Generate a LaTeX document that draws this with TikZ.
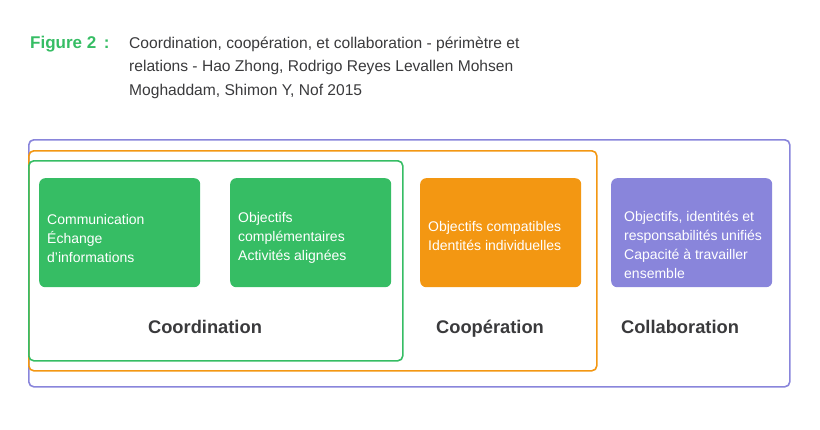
\documentclass[tikz,border=0pt]{standalone}
\usepackage{fontspec}
\setmainfont{Liberation Sans}
\usetikzlibrary{positioning}

\definecolor{vert}{HTML}{36BD64}
\definecolor{orange}{HTML}{F39712}
\definecolor{violet}{HTML}{8985DB}
\definecolor{gris}{HTML}{3A3A3C}

\tikzset{
    cadre/.style={draw, rounded corners=5pt, line width=1.6pt, anchor=north west, inner sep=0pt},
    bloc/.style={rounded corners=6pt, anchor=north west, minimum width=161pt, minimum height=109pt, inner sep=0pt},
    texte/.style={anchor=west, inner sep=0pt, align=left, text=white, font=\fontsize{14}{19}\selectfont},
    titre/.style={anchor=base, text=gris, font=\bfseries\fontsize{18.3}{20}\selectfont}
}

\begin{document}
\begin{tikzpicture}[x=1pt, y=-1pt]

        \useasboundingbox (0,0) rectangle (820,429);

        % ==================== Titre ====================
        \node[anchor=base west, inner sep=0pt, text=vert, font=\bfseries\fontsize{17}{23.5}\selectfont] (fig) at (30,48) {Figure 2 \,:};
        \node[anchor=north west, inner sep=0pt, text=gris, align=left, font=\fontsize{15.6}{23.5}\selectfont] (legende) at (129,36.5)
            {Coordination, coopération, et collaboration - périmètre et\\
             relations - Hao Zhong, Rodrigo Reyes Levallen Mohsen\\
             Moghaddam, Shimon Y, Nof 2015};

        % ==================== Cadres imbriqués ====================
        \node[cadre, draw=violet, minimum width=761pt, minimum height=247pt] (collab) at (28,139) {};
        \node[cadre, draw=orange, minimum width=568pt, minimum height=220pt] (coop) at (28,150) {};
        \node[cadre, draw=vert, minimum width=374pt, minimum height=200pt] (coord) at (28,160) {};

        % ==================== Blocs ====================
        \node[bloc, fill=vert] (comm) at (39,178) {};
        \node[bloc, fill=vert] (obj) at (230,178) {};
        \node[bloc, fill=orange] (compat) at (420,178) {};
        \node[bloc, fill=violet] (unif) at (611,178) {};

        \node[texte] (comm-t) at ([xshift=8pt, yshift=-5.5pt] comm.west) {Communication\\Échange\\d'informations};
        \node[texte] (obj-t) at ([xshift=8pt, yshift=-5.5pt] obj.west) {Objectifs\\complémentaires\\Activités alignées};
        \node[texte] (compat-t) at ([xshift=8pt, yshift=-3.5pt] compat.west) {Objectifs compatibles\\Identités individuelles};
        \node[texte] (unif-t) at ([xshift=13pt, yshift=-12pt] unif.west)
            {Objectifs, identités et\\responsabilités unifiés\\Capacité à travailler\\ensemble};

        % ==================== Étiquettes ====================
        \node[titre] (lcoord) at (205,333) {Coordination};
        \node[titre] (lcoop) at (490,333) {Coopération};
        \node[titre] (lcollab) at (680,333) {Collaboration};

    \end{tikzpicture}
\end{document}
